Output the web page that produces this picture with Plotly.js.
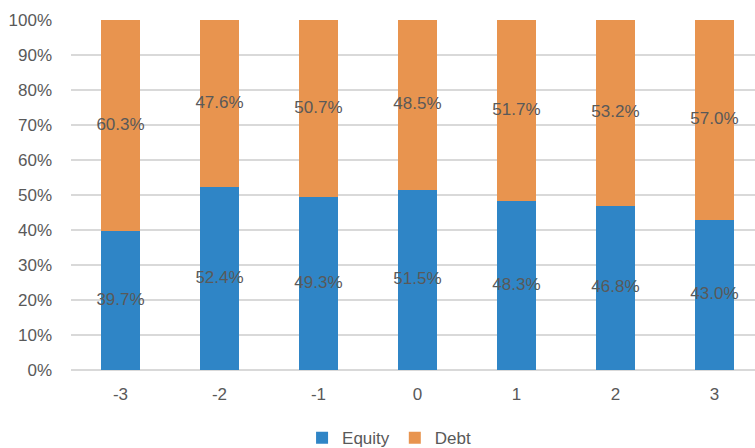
<!DOCTYPE html>
<html>
<head>
<meta charset="utf-8">
<script src="https://cdn.plot.ly/plotly-3.0.1.min.js"></script>
<style>html,body{margin:0;padding:0;background:#fff;}#chart{width:755px;height:448px;}</style>
</head>
<body>
<div id="chart"></div>
<script>
const categories = ['-3', '-2', '-1', '0', '1', '2', '3'];
const equity = [39.7, 52.4, 49.3, 51.5, 48.3, 46.8, 43.0];
const debt = [60.3, 47.6, 50.7, 48.5, 51.7, 53.2, 57.0];
const yTickVals = [0, 10, 20, 30, 40, 50, 60, 70, 80, 90, 100];
const yTickText = yTickVals.map(v => v + '%');

const blue = '#2F85C6';
const orange = '#E8944F';
const labelColor = '#595959';
const fontFam = '"Liberation Sans", Arial, sans-serif';

const fmt = v => v.toFixed(1) + '%';

const traces = [
  {type: 'bar', name: 'Equity', x: categories, y: equity, marker: {color: blue}, hoverinfo: 'none'},
  {type: 'bar', name: 'Debt', x: categories, y: debt, marker: {color: orange}, hoverinfo: 'none'},
  {type: 'scatter', mode: 'text', x: categories, y: equity.map(v => v / 2),
   text: equity.map(fmt), textfont: {color: labelColor, size: 17, family: fontFam}, showlegend: false, hoverinfo: 'none'},
  {type: 'scatter', mode: 'text', x: categories, y: debt.map((v, i) => equity[i] + v / 2),
   text: debt.map(fmt), textfont: {color: labelColor, size: 17, family: fontFam}, showlegend: false, hoverinfo: 'none'}
];

const layout = {
  width: 755, height: 448,
  margin: {l: 71, r: 0, t: 20, b: 78},
  barmode: 'stack',
  bargap: 0.6,
  paper_bgcolor: '#fff', plot_bgcolor: '#fff',
  font: {family: fontFam, color: labelColor, size: 17},
  xaxis: {type: 'category', range: [-0.5, 6.41], showgrid: false, zeroline: false,
          showline: false, ticks: '', ticklabelstandoff: 12, tickfont: {size: 17, color: labelColor}},
  yaxis: {range: [0, 100], tickmode: 'array', tickvals: yTickVals, ticktext: yTickText,
          showgrid: true, gridcolor: '#D9D9D9', gridwidth: 1.5, zeroline: true, zerolinecolor: '#D9D9D9', zerolinewidth: 1.5,
          showline: false, ticks: '', ticklabelstandoff: 18, tickfont: {size: 17, color: labelColor}},
  legend: {orientation: 'h', x: 0.465, xanchor: 'center', xref: 'paper', y: 0.022, yanchor: 'middle', yref: 'container',
           font: {size: 17, color: labelColor}, itemwidth: 30, traceorder: 'normal', tracegroupgap: 0},
  showlegend: true
};

Plotly.newPlot('chart', traces, layout, {displayModeBar: false, staticPlot: true});
</script>
</body>
</html>
